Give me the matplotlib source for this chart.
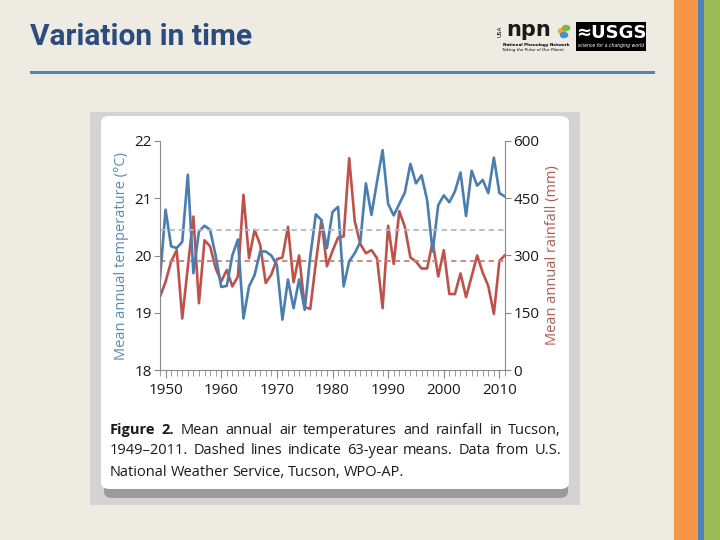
import numpy as np
import matplotlib
matplotlib.use("Agg")
import matplotlib.pyplot as plt
from matplotlib.patches import Rectangle, FancyBboxPatch, Circle
from matplotlib.ticker import MultipleLocator

# Tucson annual means, 1949-2011
years = list(range(1949, 2012))
temp_c = [19.60, 20.80, 20.16, 20.13, 20.24, 21.41, 19.69, 20.42, 20.52, 20.45,
          20.00, 19.45, 19.47, 20.00, 20.28, 18.90, 19.46, 19.66, 20.07, 20.07,
          20.00, 19.84, 18.88, 19.58, 19.08, 19.58, 19.05, 19.98, 20.72, 20.62,
          20.13, 20.76, 20.85, 19.46, 19.90, 20.04, 20.24, 21.26, 20.71, 21.29,
          21.84, 20.90, 20.70, 20.90, 21.10, 21.60, 21.26, 21.40, 20.97, 20.07,
          20.88, 21.05, 20.93, 21.12, 21.45, 20.69, 21.48, 21.22, 21.32, 21.09,
          21.71, 21.09, 21.03]
rain_mm = [192, 231, 284, 314, 135, 270, 402, 175, 340, 324,
           267, 232, 262, 219, 245, 459, 293, 367, 328, 228,
           250, 290, 295, 375, 230, 300, 165, 160, 280, 392,
           272, 312, 347, 350, 555, 390, 330, 306, 314, 293,
           162, 378, 278, 416, 375, 295, 284, 266, 266, 336,
           245, 314, 199, 199, 253, 191, 245, 300, 255, 220,
           147, 286, 301]
temp_mean = 20.45
rain_mean = 285

temp_ticks = [18, 19, 20, 21, 22]
rain_ticks = [0, 150, 300, 450, 600]
decades = [1950, 1960, 1970, 1980, 1990, 2000, 2010]

blue = "#4A7DB0"
red = "#C0514A"
W, H = 720, 540

fig = plt.figure(figsize=(7.2, 5.4), dpi=100)
fig.patch.set_facecolor("#EEEBE2")


def fx(x):
    return x / W


def fy(y):
    return 1 - y / H


def box(x0, y0, x1, y1, **kw):
    r = Rectangle((fx(x0), fy(y1)), fx(x1) - fx(x0), fy(y0) - fy(y1),
                  transform=fig.transFigure, zorder=-5, **kw)
    fig.add_artist(r)
    return r


# slide decoration
box(674, 0, 698, 540, color="#F79646", lw=0)
box(698, 0, 704, 540, color="#4F81BD", lw=0)
box(704, 0, 720, 540, color="#9BBB59", lw=0)
box(30, 70.5, 655, 73.5, color="#5B7FB8", lw=0)
fig.text(fx(30), fy(37), "Variation in time", fontsize=21.5, fontweight="bold",
         color="#2B4C7C", va="center", ha="left", family="Roboto")

# logos (approximated with text)
fig.text(fx(506), fy(30), "npn", fontsize=15, fontweight="bold", color="#1a1a1a",
         va="center", ha="left", family="DejaVu Sans")
for dx, dy, c in [(0, 0, "#F5A23A"), (4, -3, "#7DB646"), (2, 4, "#4A90C8")]:
    fig.add_artist(Circle((fx(562 + dx), fy(31 + dy)), 0.006, color=c,
                          transform=fig.transFigure, lw=0))
fig.text(fx(500), fy(31), "USA", fontsize=4, rotation=90, va="center", ha="center")
fig.text(fx(503), fy(45), "National Phenology Network", fontsize=3,
         fontweight="bold", va="center", ha="left")
fig.text(fx(502), fy(50.5), "Taking the Pulse of Our Planet", fontsize=3,
         style="italic", va="center", ha="left")
box(576, 22, 646, 51, color="black", lw=0)
fig.text(fx(611), fy(33), "\u2248USGS", fontsize=13, fontweight="bold",
         color="white", va="center", ha="center", family="DejaVu Sans")
fig.text(fx(611), fy(46), "science for a changing world", fontsize=3.3,
         style="italic", color="white", va="center", ha="center")

# picture card
box(90, 112, 580, 505, color="#D3D3D3", lw=0)
shadow = FancyBboxPatch((fx(104), fy(498)), fx(568) - fx(104), fy(122) - fy(498),
                        boxstyle="round,pad=0,rounding_size=0.012",
                        transform=fig.transFigure, color="#8C8C8C", lw=0,
                        alpha=0.8, zorder=-4)
fig.add_artist(shadow)
card = FancyBboxPatch((fx(101), fy(489)), fx(569) - fx(101), fy(116) - fy(489),
                      boxstyle="round,pad=0,rounding_size=0.012",
                      transform=fig.transFigure, color="white", lw=0, zorder=-3)
fig.add_artist(card)

# chart
ax = fig.add_axes([fx(160), fy(370), fx(505) - fx(160), fy(141) - fy(370)])
ax2 = ax.twinx()
ax.set_zorder(ax2.get_zorder() + 1)
ax.patch.set_visible(False)

ax.plot(years, temp_c, color=blue, lw=1.9, solid_joinstyle="round")
ax.axhline(temp_mean, color="#A9BCD0", lw=1.3, ls=(0, (3, 2.2)))
ax2.plot(years, rain_mm, color=red, lw=1.9, solid_joinstyle="round")
ax2.axhline(rain_mean, color="#C98079", lw=1.3, ls=(0, (3, 2.2)))

ax.set_xlim(1949, 2011)
ax.set_ylim(18, 22)
ax2.set_ylim(0, 600)
ax.set_xticks(decades)
ax.xaxis.set_minor_locator(MultipleLocator(1))
ax.set_yticks(temp_ticks)
ax2.set_yticks(rain_ticks)

spine_c = "#8A8A8A"
for a in (ax, ax2):
    for s in a.spines.values():
        s.set_visible(False)
        s.set_color(spine_c)
ax.spines["left"].set_visible(True)
ax.spines["bottom"].set_visible(True)
ax2.spines["right"].set_visible(True)

ax.tick_params(axis="x", which="major", length=6, color=spine_c, pad=3, labelsize=11)
ax.tick_params(axis="x", which="minor", length=4, color=spine_c)
ax.tick_params(axis="y", length=4, color=spine_c, pad=2, labelsize=11)
ax2.tick_params(axis="y", length=4, color=spine_c, pad=2, labelsize=11)
for lab in ax.get_xticklabels() + ax.get_yticklabels() + ax2.get_yticklabels():
    lab.set_fontfamily("Open Sans")
    lab.set_color("#1a1a1a")

ax.set_ylabel("Mean annual temperature (\u00b0C)", color="#5A8BB8", fontsize=10.5,
              family="Open Sans", labelpad=4)
ax2.set_ylabel("Mean annual rainfall (mm)", color="#B85A52", fontsize=10.5,
               family="Open Sans", labelpad=4, rotation=90)

# caption, justified lines
renderer = fig.canvas.get_renderer()


def justify(words, y, x0, x1, spread=True):
    objs = []
    for w, bold in words:
        t = fig.text(0, fy(y), w, fontsize=10.5, family="Open Sans",
                     fontweight="bold" if bold else "normal", color="#1a1a1a",
                     va="center", ha="left")
        objs.append(t)
    widths = [t.get_window_extent(renderer).width for t in objs]
    if spread and len(objs) > 1:
        gap = (x1 - x0 - sum(widths)) / (len(objs) - 1)
    else:
        gap = 3.2
    x = x0
    for t, w in zip(objs, widths):
        t.set_x(fx(x))
        x += w + gap


line1 = [("Figure", True), ("2.", True)] + [(w, False) for w in
         "Mean annual air temperatures and rainfall in Tucson,".split()]
line2 = [(w, False) for w in
         "1949\u20132011. Dashed lines indicate 63-year means. Data from U.S.".split()]
line3 = [(w, False) for w in "National Weather Service, Tucson, WPO-AP.".split()]
justify(line1, 430, 110, 561)
justify(line2, 451, 110, 561)
justify(line3, 472, 110, 561, spread=False)

fig.savefig("out.png", dpi=100, facecolor=fig.get_facecolor())
